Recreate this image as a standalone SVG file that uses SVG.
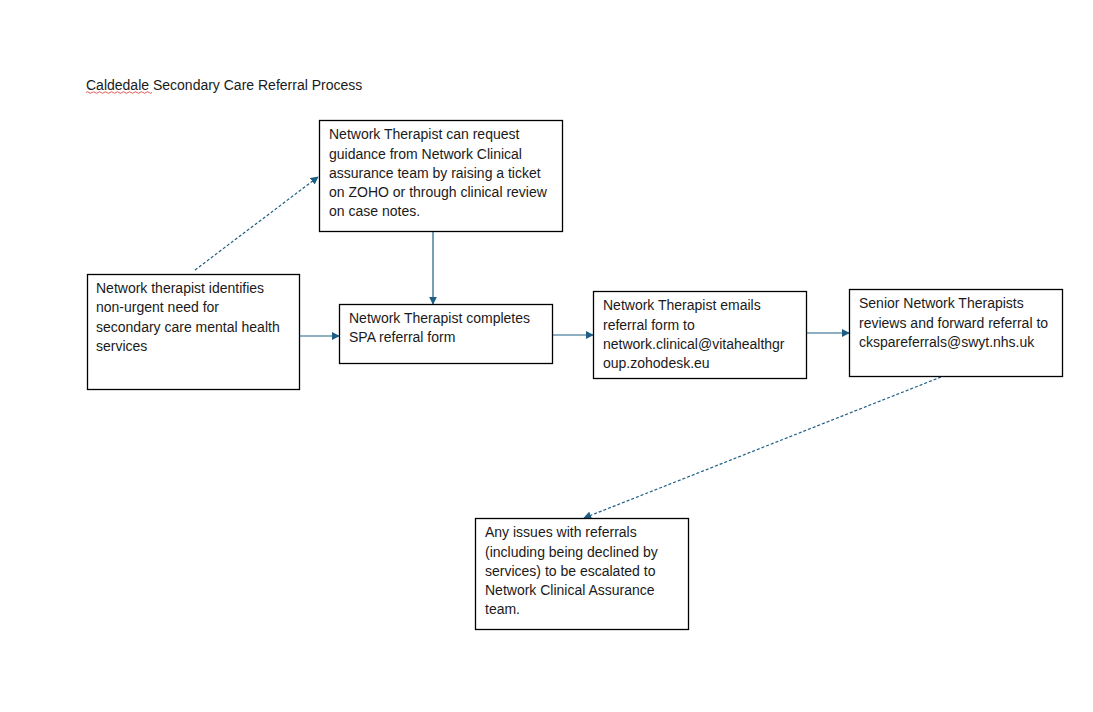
<svg xmlns="http://www.w3.org/2000/svg" width="1093" height="712" viewBox="0 0 1093 712">
<style>
.box{fill:#fff;stroke:#000;stroke-width:1.3}
text{font-family:"Liberation Sans",Arial,sans-serif;font-size:14px;fill:#1a1a1a}
.c{stroke:#1e5e85;stroke-width:1.2;fill:none}
.d{stroke-dasharray:3,2}
</style>
<defs>
<marker id="ah" viewBox="0 0 10 10" refX="9" refY="5" markerWidth="8" markerHeight="8" markerUnits="userSpaceOnUse" orient="auto">
<path d="M0,0 L10,5 L0,10 z" fill="#1e5e85"/>
</marker>
</defs>
<rect width="1093" height="712" fill="#fff"/>
<g id="title">
<text x="86" y="90">Caldedale Secondary Care Referral Process</text>
<path d="M86,92.5 q1.5,-1.5 3,0 t3,0 t3,0 t3,0 t3,0 t3,0 t3,0 t3,0 t3,0 t3,0 t3,0 t3,0 t3,0 t3,0 t3,0 t3,0 t3,0 t3,0 t3,0 t3,0 t3,0 t3,0" fill="none" stroke="#e03030" stroke-width="0.8"/>
</g>
<g id="connectors">
<line class="c d" x1="195" y1="270" x2="318" y2="177" marker-end="url(#ah)"/>
<line class="c" x1="433" y1="232" x2="433" y2="304" marker-end="url(#ah)"/>
<line class="c" x1="300" y1="336" x2="339" y2="336" marker-end="url(#ah)"/>
<line class="c" x1="553" y1="335" x2="593" y2="335" marker-end="url(#ah)"/>
<line class="c" x1="807" y1="333" x2="849" y2="333" marker-end="url(#ah)"/>
<line class="c d" x1="941" y1="377" x2="584" y2="518" marker-end="url(#ah)"/>
</g>
<g id="guidance">
<rect class="box" x="319.5" y="120.5" width="243" height="111"/>
<text x="329" y="139">Network Therapist can request</text>
<text x="329" y="159">guidance from Network Clinical</text>
<text x="329" y="178">assurance team by raising a ticket</text>
<text x="329" y="197">on ZOHO or through clinical review</text>
<text x="329" y="216">on case notes.</text>
</g>
<g id="identifies">
<rect class="box" x="87.5" y="274.5" width="212" height="115"/>
<text x="96" y="293">Network therapist identifies</text>
<text x="96" y="312">non-urgent need for</text>
<text x="96" y="332">secondary care mental health</text>
<text x="96" y="351">services</text>
</g>
<g id="spa">
<rect class="box" x="339.5" y="304.5" width="213" height="59"/>
<text x="349" y="323">Network Therapist completes</text>
<text x="349" y="342">SPA referral form</text>
</g>
<g id="emails">
<rect class="box" x="593.5" y="291.5" width="213" height="87"/>
<text x="603" y="310">Network Therapist emails</text>
<text x="603" y="330">referral form to</text>
<text x="603" y="349">network.clinical@vitahealthgr</text>
<text x="603" y="368">oup.zohodesk.eu</text>
</g>
<g id="senior">
<rect class="box" x="849.5" y="289.5" width="213" height="87"/>
<text x="859" y="308">Senior Network Therapists</text>
<text x="859" y="328">reviews and forward referral to</text>
<text x="859" y="347">ckspareferrals@swyt.nhs.uk</text>
</g>
<g id="issues">
<rect class="box" x="475.5" y="518.5" width="213" height="111"/>
<text x="485" y="537">Any issues with referrals</text>
<text x="485" y="557">(including being declined by</text>
<text x="485" y="576">services) to be escalated to</text>
<text x="485" y="595">Network Clinical Assurance</text>
<text x="485" y="614">team.</text>
</g>
</svg>
